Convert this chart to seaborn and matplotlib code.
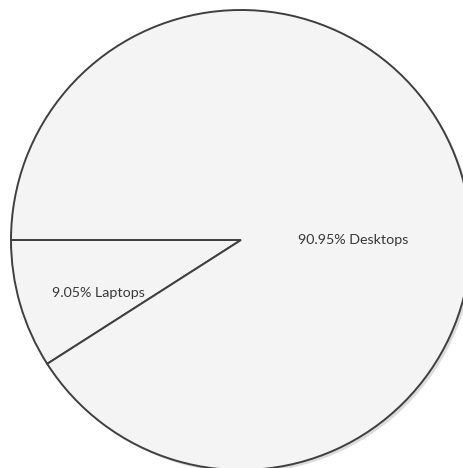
import matplotlib
matplotlib.use("Agg")
import matplotlib.pyplot as plt
import seaborn as sns

categories = ["Laptops", "Desktops"]
shares = [9.05, 90.95]
labels = ["9.05% Laptops", "90.95% Desktops"]

sns.set_theme(style="white")
plt.rcParams['font.family'] = ['Lato', 'DejaVu Sans']

fig = plt.figure(figsize=(4.63, 4.68), dpi=100)
W, H = 463, 468
cx, cy, r = 241, 240, 230
ax = fig.add_axes([(cx - r) / W, (H - cy - r) / H, 2 * r / W, 2 * r / H])
ax.set_axis_off()

# subtle shadow
shadow = plt.Circle((0.012, -0.012), 1.0, color="#dcdcdc", zorder=0, lw=0)
ax.add_patch(shadow)

wedges, _ = ax.pie(shares, startangle=180, counterclock=True,
                   colors=["#f4f4f4", "#f4f4f4"],
                   wedgeprops=dict(edgecolor="#3f3f3f", linewidth=1.4),
                   radius=1.0)
for w in wedges:
    w.set_zorder(2)

label_pos = [(-0.62, -0.23), (0.487, 0.0)]
for (x, y), t in zip(label_pos, labels):
    ax.text(x, y, t, ha="center", va="center", fontsize=10.3, color="#383838", zorder=3)

ax.set_xlim(-1, 1)
ax.set_ylim(-1, 1)
ax.set_aspect("equal")

fig.savefig("out.png", dpi=100, facecolor="white")
